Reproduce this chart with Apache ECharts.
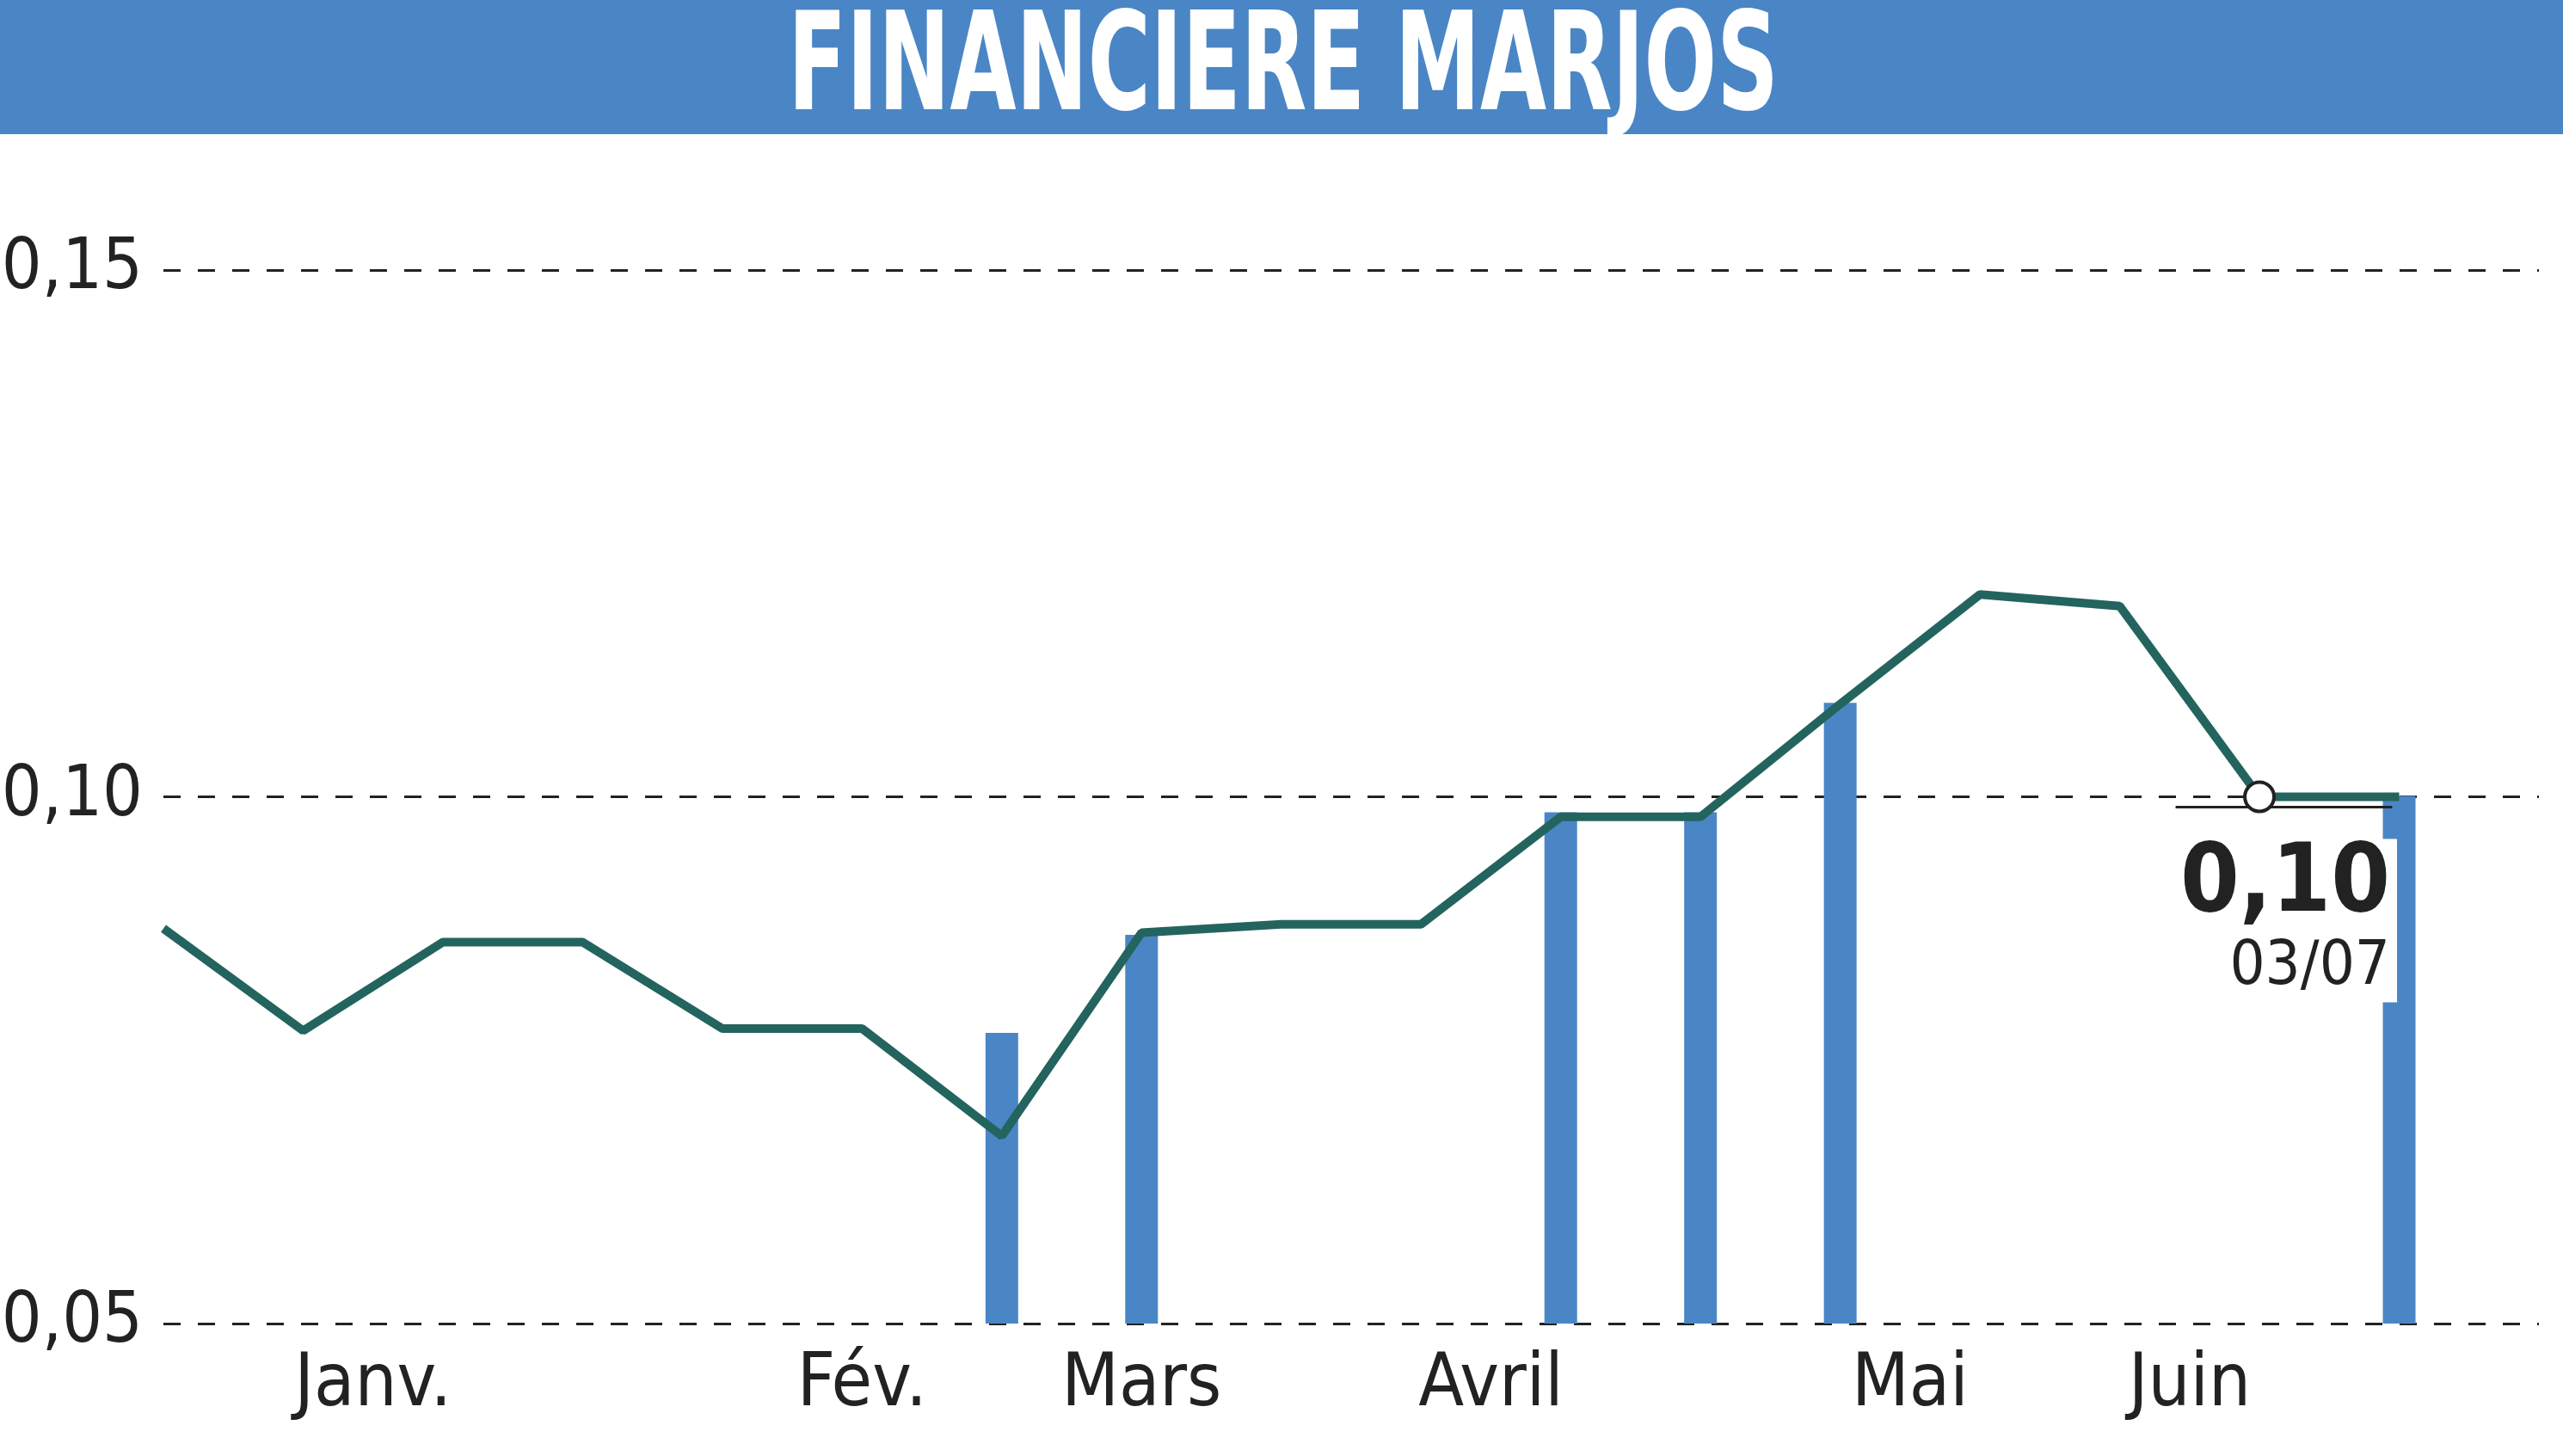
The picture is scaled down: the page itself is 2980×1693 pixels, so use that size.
<!DOCTYPE html>
<html><head><meta charset="utf-8">
<script src="https://cdn.jsdelivr.net/npm/echarts@6/dist/echarts.min.js"></script>
<style>html,body{margin:0;padding:0;background:#fff}#c{width:2980px;height:1693px}</style>
</head><body><div id="c"></div>
<script>
const prices=[0.0875,0.0778,0.0862,0.0862,0.078,0.078,0.0678,0.0871,0.0879,0.0879,0.0981,0.0981,0.1088,0.1192,0.1181,0.100,0.100];
const volIdx=[6,7,10,11,12,16];
const volumes=[178,238,313,313,380,323];
const monthPos=[1.5,5,7,9.5,12.5,14.5];
const monthLabels=['Janv.','Fév.','Mars','Avril','Mai','Juin'];
const FONT='"DejaVu Sans Condensed","Liberation Sans Narrow",sans-serif';
const chart=echarts.init(document.getElementById('c'));
chart.setOption({
  animation:false,
  graphic:[
    {type:'rect',shape:{x:0,y:0,width:2980,height:156},style:{fill:'#4a86c5'}},
    {type:'text',x:1492,y:86,scaleX:0.7,style:{text:'FINANCIERE MARJOS',fill:'#fff',font:'bold 158px '+FONT,align:'center',verticalAlign:'middle'}}
  ],
  grid:{left:190,right:28,top:314,bottom:154,outerBoundsMode:'none'},
  xAxis:{type:'value',min:0,max:17,interval:0.5,
    axisLine:{show:false},axisTick:{show:false},splitLine:{show:false},
    axisLabel:{margin:30,fontSize:86,fontFamily:FONT,color:'#222',
      formatter:v=>{const i=monthPos.indexOf(v);return i>=0?monthLabels[i]:'';}}},
  yAxis:[{type:'value',min:0.05,max:0.15,interval:0.05,
    axisLine:{show:false},axisTick:{show:false},
    splitLine:{lineStyle:{type:[20,20],color:'#222',width:3}},
    axisLabel:{fontSize:82,fontFamily:FONT,color:'#222',margin:24,
      formatter:v=>v.toFixed(2).replace('.',',')}},
    {type:'value',min:0,max:645,show:false,splitLine:{show:false}}],
  series:[
    {type:'bar',yAxisIndex:1,barWidth:38,itemStyle:{color:'#4a86c5'},
      data:volIdx.map((x,i)=>[x,volumes[i]])},
    {type:'line',data:prices.map((v,i)=>i===15?{value:[i,v],symbol:'circle',symbolSize:34,
        itemStyle:{color:'#fff',borderColor:'#222',borderWidth:4},
        label:{show:true,position:'bottom',distance:30,offset:[160,0],formatter:'{a|0,10}\n{b|03/07}',
          backgroundColor:'#fff',padding:[0,8,0,8],align:'right',
          rich:{a:{fontSize:110,fontWeight:'bold',fontFamily:FONT,color:'#222',lineHeight:110,align:'right'},
                b:{fontSize:72,fontFamily:FONT,color:'#222',lineHeight:80,align:'right'}}}}:[i,v]),
      symbol:'none',lineStyle:{color:'#23645e',width:10},z:5,
      markLine:{silent:true,symbol:'none',lineStyle:{color:'#222',width:3,type:'solid'},label:{show:false},
        data:[[{coord:[14.4,0.099]},{coord:[15.95,0.099]}]]}}
  ]
});
</script></body></html>
